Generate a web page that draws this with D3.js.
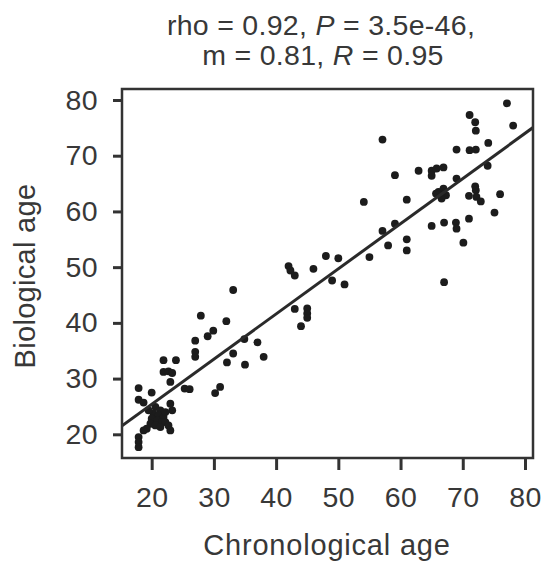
<!DOCTYPE html>
<html>
<head>
<meta charset="utf-8">
<script src="https://cdn.jsdelivr.net/npm/d3@7"></script>
<style>
    body { margin: 0; background: #fff; }
    text { font-family: "Liberation Sans", Arial, sans-serif; fill: #383838; }
</style>
</head>
<body>
<div id="chart"></div>
<script>
// chronological age (x) and biological age (y)
const chronological = [
    77.1, 78.1, 71.1, 72.0, 72.1, 74.1, 69.0, 71.1, 72.1, 57.1,
    74.0, 62.9, 65.0, 65.8, 66.9, 65.0, 59.1, 69.0, 66.1, 66.9,
    67.3, 66.6, 65.7, 72.0, 72.1, 71.0, 72.2, 72.9, 76.0, 75.1,
    61.0, 54.1, 65.0, 67.0, 68.9, 69.0, 71.0, 70.1, 67.0, 59.1,
    57.1, 58.0, 61.0, 61.0, 55.0, 50.0, 48.0, 46.0, 49.0, 51.0,
    42.0, 42.3, 43.0, 43.0, 45.0, 45.0, 45.0, 44.0, 33.1, 27.9,
    32.0, 29.9, 29.0, 27.0, 27.0, 27.0, 34.9, 37.0, 33.1, 32.1,
    35.0, 38.0,
    21.9, 23.9, 21.9, 22.7, 23.3, 23.0, 25.3, 26.1, 30.2, 31.0,
    17.9, 20.0, 17.9, 18.7, 23.0, 23.3, 20.6, 21.4, 20.3, 21.1,
    21.9, 20.0, 20.9, 21.7, 19.8, 22.2, 20.6, 21.4, 22.7, 19.2,
    18.7, 23.0, 22.2, 19.5, 17.9, 17.9, 17.9
];
const biological = [
    79.4, 75.4, 77.3, 76.0, 74.5, 72.3, 71.1, 71.0, 71.1, 72.9,
    68.2, 67.3, 67.3, 67.7, 67.9, 66.4, 66.5, 65.9, 63.5, 64.1,
    62.9, 62.3, 63.2, 64.5, 63.8, 62.8, 62.6, 61.8, 63.1, 59.8,
    62.1, 61.7, 57.4, 58.0, 58.0, 56.9, 58.7, 54.4, 47.3, 57.8,
    56.5, 53.9, 55.0, 53.0, 51.8, 51.6, 52.0, 49.7, 47.6, 46.9,
    50.2, 49.4, 48.5, 42.5, 42.6, 41.7, 40.9, 39.4, 45.9, 41.3,
    40.3, 38.6, 37.6, 36.8, 34.8, 33.9, 37.1, 36.5, 34.5, 32.9,
    32.5, 33.9,
    33.3, 33.3, 31.2, 31.3, 31.0, 29.4, 28.2, 28.1, 27.4, 28.5,
    28.3, 27.5, 26.2, 25.7, 25.5, 24.3, 24.9, 24.3, 23.7, 23.4,
    23.1, 22.8, 22.5, 22.2, 21.9, 22.2, 21.6, 21.3, 21.6, 21.0,
    20.7, 20.7, 24.0, 24.3, 19.5, 18.6, 17.7
];
const xTicks = [20, 30, 40, 50, 60, 70, 80];
const yTicks = [20, 30, 40, 50, 60, 70, 80];
const xDomain = [15.23, 81.29];
const yDomain = [15.75, 81.97];
// fitted line: slope m from the title, intercept
const slope = 0.81;
const intercept = 9.2;

const margin = { top: 89, left: 122 };
const width = 411, height = 369;
const FONT = 28.5;
const INK = "#333";

const svg = d3.select("#chart")
    .append("svg")
    .attr("width", 547)
    .attr("height", 566);

const g = svg.append("g")
    .attr("transform", `translate(${margin.left}, ${margin.top})`);

const x = d3.scaleLinear().domain(xDomain).range([0, width]);
const y = d3.scaleLinear().domain(yDomain).range([height, 0]);

// axes
const xAxis = g.append("g")
    .attr("transform", `translate(0, ${height})`)
    .call(d3.axisBottom(x).tickValues(xTicks).tickSize(12).tickPadding(17));
const yAxis = g.append("g")
    .call(d3.axisLeft(y).tickValues(yTicks).tickSize(9).tickPadding(15));

[xAxis, yAxis].forEach(a => {
    a.select("path.domain").remove();
    a.selectAll(".tick line").attr("stroke", INK).attr("stroke-width", 3);
    a.selectAll(".tick text")
        .style("font-size", FONT + "px")
        .style("font-family", "'Liberation Sans', Arial, sans-serif")
        .style("letter-spacing", "0.4px")
        .attr("fill", "#383838");
});

// points
const pts = chronological.map((c, i) => ({ c: c, b: biological[i] }));
g.append("g")
    .selectAll("circle")
    .data(pts)
    .enter()
    .append("circle")
    .attr("cx", d => x(d.c))
    .attr("cy", d => y(d.b))
    .attr("r", 3.9)
    .attr("fill", "#1c1c1c");

// regression line, clipped to the box
g.append("clipPath").attr("id", "clip")
    .append("rect").attr("width", width).attr("height", height);
g.append("line")
    .attr("clip-path", "url(#clip)")
    .attr("x1", x(xDomain[0]))
    .attr("y1", y(intercept + slope * xDomain[0]))
    .attr("x2", x(xDomain[1]))
    .attr("y2", y(intercept + slope * xDomain[1]))
    .attr("stroke", "#2a2a2a")
    .attr("stroke-width", 3);

// frame
g.append("rect")
    .attr("width", width)
    .attr("height", height)
    .attr("fill", "none")
    .attr("stroke", INK)
    .attr("stroke-width", 2.5);

// labels
svg.append("text")
    .attr("x", 327)
    .attr("y", 555)
    .attr("text-anchor", "middle")
    .style("font-size", "29px")
    .style("letter-spacing", "0.8px")
    .text("Chronological age");

svg.append("text")
    .attr("transform", "translate(35, 276) rotate(-90)")
    .attr("text-anchor", "middle")
    .style("font-size", "29px")
    .style("letter-spacing", "0.3px")
    .text("Biological age");

const title = svg.append("text")
    .attr("text-anchor", "middle")
    .style("font-size", FONT + "px")
    .style("letter-spacing", "0.3px");
const l1 = title.append("tspan").attr("x", 321).attr("y", 35);
l1.append("tspan").text("rho = 0.92, ");
l1.append("tspan").style("font-style", "italic").text("P");
l1.append("tspan").text(" = 3.5e-46,");
const l2 = title.append("tspan").attr("x", 323).attr("y", 65);
l2.append("tspan").text("m = 0.81, ");
l2.append("tspan").style("font-style", "italic").text("R");
l2.append("tspan").text(" = 0.95");
</script>
</body>
</html>
